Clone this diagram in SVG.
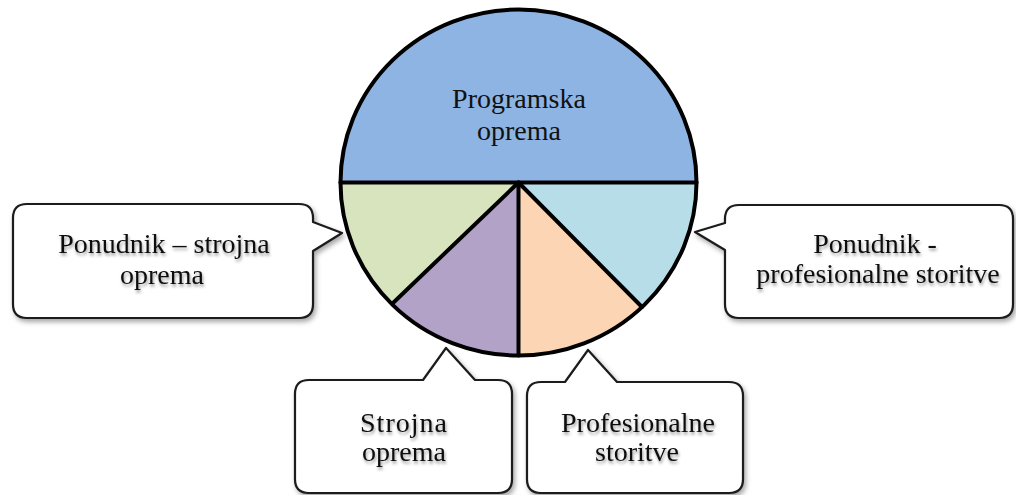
<svg xmlns="http://www.w3.org/2000/svg" width="1016" height="495" viewBox="0 0 1016 495">
  <defs>
    <style>
      .lbl { font-family: "Liberation Serif", "Times New Roman", serif; font-size: 28px; fill: #111; text-anchor: middle; }
      .callout { fill: #fff; stroke: #1a1a1a; stroke-width: 2.2; stroke-linejoin: round; }
      .edge { fill: none; stroke: #000; stroke-width: 4; stroke-linecap: round; }
    </style>
    <filter id="boxShadow" x="-10%" y="-10%" width="125%" height="130%">
      <feDropShadow dx="2" dy="3" stdDeviation="2.5" flood-color="#000" flood-opacity="0.35"/>
    </filter>
    <filter id="textShadow" x="-10%" y="-20%" width="120%" height="160%">
      <feDropShadow dx="1" dy="2.5" stdDeviation="1.6" flood-color="#000" flood-opacity="0.4"/>
    </filter>
  </defs>

  <!-- Pie: centre (518.5, 182.5), rx 178, ry 173 -->
  <g id="pie">
    <path id="sector-programska" fill="#8EB4E3" d="M340.5 182.5 A178 173 0 0 1 696.5 182.5 Z"/>
    <path id="sector-ponudnik-strojna" fill="#D7E4BD" d="M518.5 182.5 L340.5 182.5 A178 173 0 0 0 393 303 Z"/>
    <path id="sector-strojna" fill="#B3A2C7" d="M518.5 182.5 L393 303 A178 173 0 0 0 518.5 355.5 Z"/>
    <path id="sector-profesionalne" fill="#FCD5B5" d="M518.5 182.5 L518.5 355.5 A178 173 0 0 0 642 307 Z"/>
    <path id="sector-ponudnik-prof" fill="#B7DEE8" d="M518.5 182.5 L642 307 A178 173 0 0 0 696.5 182.5 Z"/>
    <g id="pie-lines">
      <line class="edge" x1="340.5" y1="182.5" x2="696.5" y2="182.5"/>
      <line class="edge" x1="518.5" y1="182.5" x2="393" y2="303"/>
      <line class="edge" x1="518.5" y1="182.5" x2="518.5" y2="355.5"/>
      <line class="edge" x1="518.5" y1="182.5" x2="642" y2="307"/>
      <ellipse class="edge" cx="518.5" cy="182.5" rx="178" ry="173"/>
    </g>
    <text class="lbl" x="519" y="108">Programska</text>
    <text class="lbl" x="519" y="140">oprema</text>
  </g>

  <!-- Callouts -->
  <g id="callout-ponudnik-strojna">
    <path class="callout" filter="url(#boxShadow)" d="M27 204 H299 Q313 204 313 218 V222 L342 233 L313 251 V304 Q313 318 299 318 H27 Q13 318 13 304 V218 Q13 204 27 204 Z"/>
    <g filter="url(#textShadow)">
      <text class="lbl" x="164" y="253">Ponudnik – strojna</text>
      <text class="lbl" x="162" y="284">oprema</text>
    </g>
  </g>

  <g id="callout-ponudnik-profesionalne">
    <path class="callout" filter="url(#boxShadow)" d="M739 205 H999 Q1013 205 1013 219 V304 Q1013 318 999 318 H739 Q725 318 725 304 V250 L695 232 L725 223 V219 Q725 205 739 205 Z"/>
    <g filter="url(#textShadow)">
      <text class="lbl" x="875" y="253">Ponudnik -</text>
      <text class="lbl" x="878" y="283">profesionalne storitve</text>
    </g>
  </g>

  <g id="callout-strojna">
    <path class="callout" filter="url(#boxShadow)" d="M309 380 H423 L446 348 L475 380 H498 Q512 380 512 394 V479 Q512 493 498 493 H309 Q295 493 295 479 V394 Q295 380 309 380 Z"/>
    <g filter="url(#textShadow)">
      <text class="lbl" x="404" y="432" letter-spacing="1">Strojna</text>
      <text class="lbl" x="404" y="461">oprema</text>
    </g>
  </g>

  <g id="callout-profesionalne">
    <path class="callout" filter="url(#boxShadow)" d="M541 382 H565 L588 350 L617 382 H729 Q743 382 743 396 V479 Q743 493 729 493 H541 Q527 493 527 479 V396 Q527 382 541 382 Z"/>
    <g filter="url(#textShadow)">
      <text class="lbl" x="638" y="432">Profesionalne</text>
      <text class="lbl" x="637" y="461">storitve</text>
    </g>
  </g>
</svg>
